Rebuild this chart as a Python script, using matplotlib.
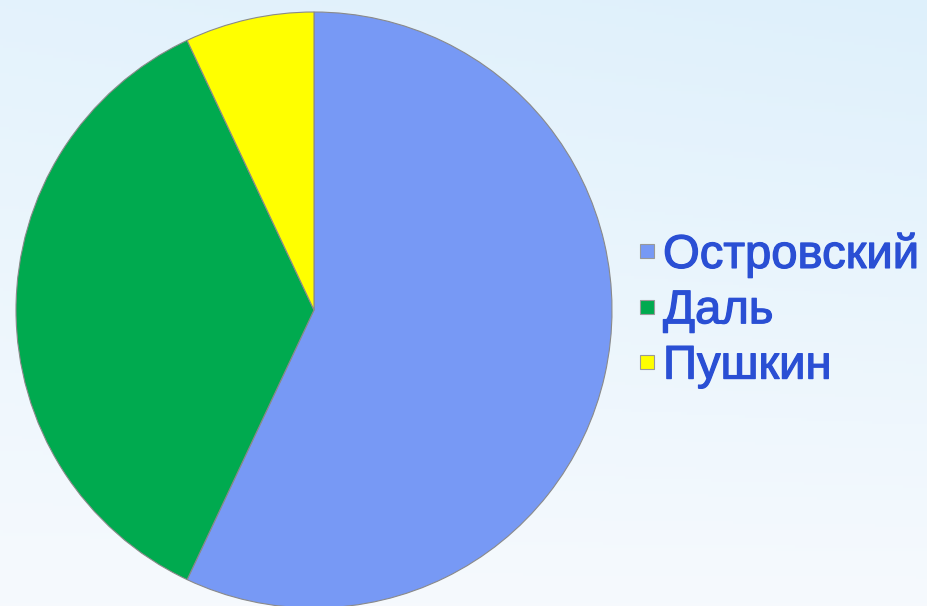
import numpy as np
import matplotlib
matplotlib.use("Agg")
import matplotlib.pyplot as plt
import matplotlib.patheffects as pe
from matplotlib.lines import Line2D

labels = ["Островский", "Даль", "Пушкин"]
values = [57, 36, 7]
colors = ["#7799F5", "#00AA4F", "#FFFF00"]

W, H = 928, 606
fig = plt.figure(figsize=(W / 100, H / 100), dpi=100)

# background (soft light-blue gradient)
bg = fig.add_axes([0, 0, 1, 1])
yy, xx = np.mgrid[0:1:200j, 0:1:300j]
t = np.clip(0.5 * yy + 0.35 * xx * yy + 0.15 * (1 - xx) * yy, 0, 1)
r = 0.965 - 0.11 * t
g = 0.98 - 0.045 * t
b = 0.995 - 0.01 * t
img = np.dstack([r, g, b]).clip(0, 1)
bg.imshow(img, extent=[0, 1, 0, 1], aspect="auto", origin="lower")
bg.axis("off")

cx, cy, R = 314, 310, 298
ax = fig.add_axes([(cx - R) / W, (H - cy - R) / H, 2 * R / W, 2 * R / H])
ax.pie(values, colors=colors, startangle=90, counterclock=False,
       wedgeprops=dict(edgecolor="#8a8a8a", linewidth=0.8))
ax.set_xlim(-1.0, 1.0)
ax.set_ylim(-1.0, 1.0)
ax.set_aspect("equal")
ax.axis("off")

handles = [Line2D([], [], marker="s", linestyle="", markersize=9.5,
                  markerfacecolor=c, markeredgecolor="#999999", markeredgewidth=0.8)
           for c in colors]
leg = fig.legend(handles, labels, loc="center left", bbox_to_anchor=(638 / W, 1 - 311 / H),
                 frameon=False, handlelength=0.38, handletextpad=0.15,
                 labelspacing=0.24, borderaxespad=0, borderpad=0,
                 prop=dict(family="Liberation Sans", size=34))
for t in leg.get_texts():
    t.set_color("#2A4FD4")
    t.set_path_effects([pe.withStroke(linewidth=0.9, foreground="#2A4FD4")])

fig.savefig("out.png", dpi=100)
